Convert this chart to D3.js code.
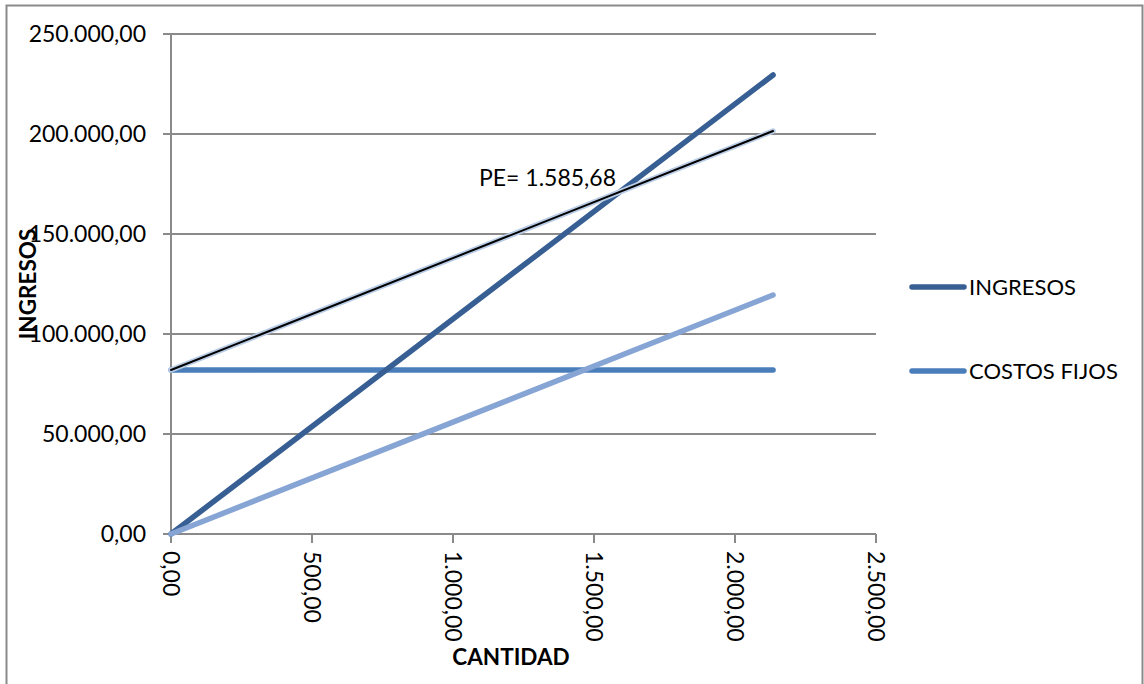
<!DOCTYPE html>
<html>
<head>
<meta charset="utf-8">
<script src="https://cdn.jsdelivr.net/npm/d3@7"></script>
<style>
  html, body { margin: 0; padding: 0; background: #fff; }
  svg { display: block; font-family: Lato, "Open Sans", sans-serif; }
</style>
</head>
<body>
<svg id="chart" width="1144" height="684"></svg>
<script>
// Break-even chart: revenue vs. fixed, variable and total costs
const cantidad = [0, 2135];
const ingresos = [0, 229500];
const costosFijos = [82000, 82000];
const costosVariables = [0, 119500];
const costosTotales = [82000, 201500];

const yTicks = [0, 50000, 100000, 150000, 200000, 250000];
const xTicks = [0, 500, 1000, 1500, 2000, 2500];
const puntoEquilibrio = 1585.68;
const legendItems = ["INGRESOS", "COSTOS FIJOS"];

const fmt = d3.formatLocale({ decimal: ",", thousands: ".", grouping: [3], currency: ["", ""] }).format(",.2f");

const svg = d3.select("#chart");
const plot = { left: 171, right: 876, top: 34, bottom: 534 };

const x = d3.scaleLinear().domain([0, 2500]).range([plot.left, plot.right]);
const y = d3.scaleLinear().domain([0, 250000]).range([plot.bottom, plot.top]);

const gridColor = "#8a8a8a";

// outer chart frame
svg.append("rect")
  .attr("x", 6.5).attr("y", 5.5)
  .attr("width", 1136).attr("height", 700)
  .attr("fill", "none").attr("stroke", "#8a8a8a").attr("stroke-width", 2);

// horizontal gridlines with left tick marks
svg.append("g").selectAll("line").data(yTicks).join("line")
  .attr("x1", plot.left - 8).attr("x2", plot.right)
  .attr("y1", d => y(d)).attr("y2", d => y(d))
  .attr("stroke", gridColor).attr("stroke-width", 2);

// y axis line
svg.append("line")
  .attr("x1", plot.left).attr("x2", plot.left)
  .attr("y1", plot.top).attr("y2", plot.bottom)
  .attr("stroke", gridColor).attr("stroke-width", 2);

// x axis ticks
svg.append("g").selectAll("line").data(xTicks).join("line")
  .attr("x1", d => x(d)).attr("x2", d => x(d))
  .attr("y1", plot.bottom).attr("y2", plot.bottom + 9)
  .attr("stroke", gridColor).attr("stroke-width", 2);

// y tick labels
svg.append("g").selectAll("text").data(yTicks).join("text")
  .attr("x", 146).attr("y", d => y(d))
  .attr("dy", "0.36em")
  .attr("text-anchor", "end")
  .attr("font-size", 23)
  .attr("fill", "#000")
  .text(d => fmt(d));

// x tick labels, rotated
svg.append("g").selectAll("text").data(xTicks).join("text")
  .attr("transform", d => `translate(${x(d)},${plot.bottom + 17}) rotate(90)`)
  .attr("dy", "0.36em")
  .attr("text-anchor", "start")
  .attr("font-size", 23)
  .attr("fill", "#000")
  .text(d => fmt(d));

// series lines
const pts = vals => cantidad.map((q, i) => [q, vals[i]]);
const line = d3.line().x(d => x(d[0])).y(d => y(d[1]));

function drawSeries(vals, color, width) {
  svg.append("path")
    .attr("d", line(pts(vals)))
    .attr("fill", "none")
    .attr("stroke", color)
    .attr("stroke-width", width)
    .attr("stroke-linecap", "round");
}

drawSeries(costosFijos, "#4a7ebb", 5.5);
drawSeries(ingresos, "#385f93", 5.5);
drawSeries(costosVariables, "#86a4d4", 5.5);
// total costs: thin black line with a pale halo
drawSeries(costosTotales, "#b9cce6", 5.5);
drawSeries(costosTotales, "#000000", 2);

// break-even label
svg.append("text")
  .attr("x", 479).attr("y", 178)
  .attr("dy", "0.36em")
  .attr("font-size", 23)
  .attr("fill", "#000")
  .text("PE= " + fmt(puntoEquilibrio));

// axis titles
svg.append("text")
  .attr("x", 511).attr("y", 657)
  .attr("dy", "0.36em")
  .attr("text-anchor", "middle")
  .attr("font-size", 22.5)
  .attr("font-weight", "bold")
  .attr("fill", "#000")
  .text("CANTIDAD");

svg.append("text")
  .attr("transform", "translate(28,284) rotate(-90)")
  .attr("dy", "0.36em")
  .attr("text-anchor", "middle")
  .attr("font-size", 22.5)
  .attr("font-weight", "bold")
  .attr("fill", "#000")
  .text("INGRESOS");

// legend
const legendColors = ["#385f93", "#4a7ebb"];
const lg = svg.append("g").selectAll("g").data(legendItems).join("g")
  .attr("transform", (d, i) => `translate(0,${287 + i * 84})`);
lg.append("line")
  .attr("x1", 912).attr("x2", 964)
  .attr("stroke", (d, i) => legendColors[i])
  .attr("stroke-width", 5.5)
  .attr("stroke-linecap", "round");
lg.append("text")
  .attr("x", 969)
  .attr("dy", "0.36em")
  .attr("font-size", 22)
  .attr("fill", "#000")
  .text(d => d);
</script>
</body>
</html>
